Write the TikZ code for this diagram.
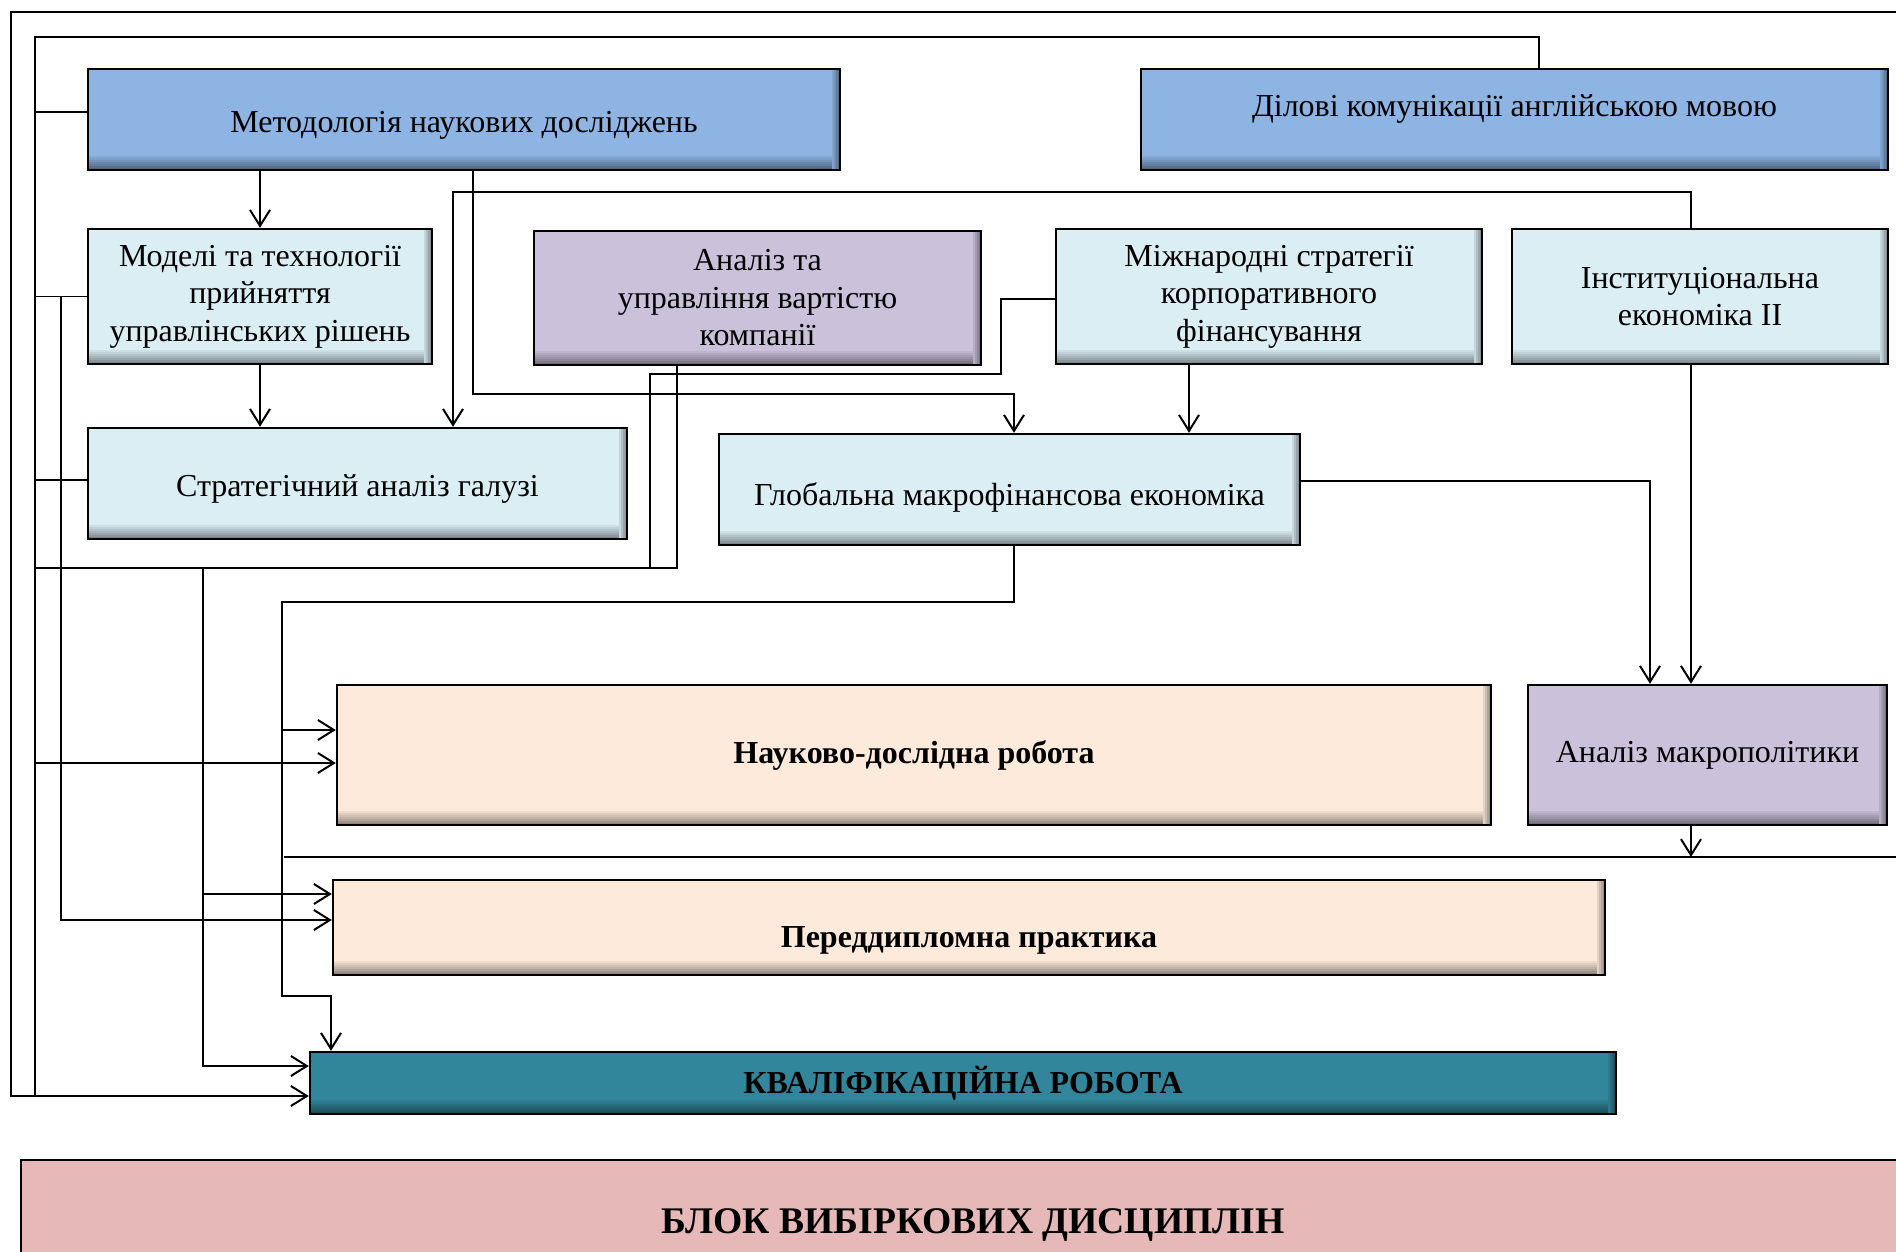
\documentclass[tikz,border=0pt]{standalone}
\usepackage{fontspec}
\setmainfont{Liberation Serif}
\usetikzlibrary{arrows.meta}
\definecolor{blu}{HTML}{8EB4E3}
\definecolor{aqua}{HTML}{DBEEF4}
\definecolor{lila}{HTML}{CCC1DA}
\definecolor{peach}{HTML}{FDEADA}
\definecolor{teal}{HTML}{31869B}
\definecolor{pink}{HTML}{E6B9B8}
\newcommand\txtshift[2]{\raisebox{#1}[0pt][0pt]{#2}}
\begin{document}
\begin{tikzpicture}[x=0.5pt,y=-0.5pt,
  bx/.style={draw=black,line width=1.2pt,fill=#1,align=center,inner sep=1pt,
    font=\fontsize{16}{18.75}\selectfont,
    path picture={
      \foreach \h/\p in {7/94,6/88,5/82,4/76,3/70,2/63,1/56}
        \fill[#1!\p!black] ([yshift=\h pt]path picture bounding box.south west) rectangle (path picture bounding box.south east);
      \foreach \w/\p in {4/90,3/80,2/70,1/60}
        \fill[#1!\p!black] ([xshift=-\w pt]path picture bounding box.north east) rectangle (path picture bounding box.south east);}},
  ln/.style={line width=0.8pt},
  ar/.style={line width=1pt,-{Straight Barb[length=8pt,width=10pt,line width=1pt]}}]
\clip (0,0) rectangle (1896,1252);
\fill[white] (0,0) rectangle (1896,1252);

\node[bx=blu,minimum width=376pt,minimum height=50.5pt] (metod) at (464,119.5) {\txtshift{-6.4pt}{Методологія наукових досліджень}};
\node[bx=blu,minimum width=373.5pt,minimum height=50.5pt] (dilovi) at (1514.5,119.5) {\txtshift{1.6pt}{Ділові комунікації англійською мовою}};
\node[bx=aqua,minimum width=172pt,minimum height=67.5pt] (modeli) at (260,296.5) {Моделі та технології\\прийняття\\управлінських рішень};
\node[bx=lila,minimum width=223.5pt,minimum height=67pt] (analiz) at (757.5,298) {Аналіз та\\управління вартістю\\компанії};
\node[bx=aqua,minimum width=213pt,minimum height=67.5pt] (mizhn) at (1269,296.5) {Міжнародні стратегії\\корпоративного\\фінансування};
\node[bx=aqua,minimum width=188pt,minimum height=67.5pt] (inst) at (1700,296.5) {Інституціональна\\економіка II};
\node[bx=aqua,minimum width=269.5pt,minimum height=55.5pt] (strat) at (357.5,483.5) {\txtshift{-6.4pt}{Стратегічний аналіз галузі}};
\node[bx=aqua,minimum width=290.5pt,minimum height=55.5pt] (glob) at (1009.5,489.5) {\txtshift{-8.2pt}{Глобальна макрофінансова економіка}};
\node[bx=peach,minimum width=577pt,minimum height=70pt] (nauk) at (914,755) {\textbf{Науково-дослідна робота}};
\node[bx=lila,minimum width=179.5pt,minimum height=70pt] (macro) at (1707.5,755) {Аналіз макрополітики};
\node[bx=peach,minimum width=636pt,minimum height=47.5pt] (pered) at (969,927.5) {\txtshift{-10pt}{\textbf{Переддипломна практика}}};
\node[bx=teal,minimum width=653pt,minimum height=31pt] (kval) at (963,1083) {\textbf{КВАЛІФІКАЦІЙНА РОБОТА}};
\node[bx=pink,minimum width=952pt,minimum height=65pt,font=\fontsize{18.8}{22}\selectfont] (blok) at (973,1225) {\textbf{БЛОК ВИБІРКОВИХ ДИСЦИПЛІН}};

\coordinate (rtop) at (1896,12);
\coordinate (rmid) at (1896,857);

\draw[ar] (dilovi.north -| 1539,0) -- (1539,37) -- (35,37) -- (35,1096) -- (kval.west |- 0,1096);
\draw[ln] (rtop) -- (11,12) -- (11,1096) -- (35,1096);
\draw[ln] (metod.west |- 0,112) -- (35,112);
\draw[ln] (modeli.west) -- (modeli.west -| 35,0);
\draw[ar] (modeli.west -| 61,0) -- (61,920) -- (pered.west |- 0,920);
\draw[ln] (strat.west |- 0,480) -- (35,480);
\draw[ln] (analiz.south -| 677,0) -- (677,568) -- (35,568);
\draw[ln] (mizhn.west |- 0,299) -- (1001,299) -- (1001,374) -- (650,374) -- (650,568);
\draw[ar] (203,568) -- (203,1066) -- (kval.west |- 0,1066);
\draw[ar] (203,894) -- (pered.west |- 0,894);
\draw[ar] (35,763) -- (nauk.west |- 0,763);

\draw[ar] (modeli.north |- metod.south) -- (modeli.north);
\draw[ar] (modeli.south) -- (modeli.south |- strat.north);
\draw[ar] (metod.south -| 473,0) -- (473,394) -- (1014,394) -- (glob.north -| 1014,0);
\draw[ar] (inst.north -| 1691,0) -- (1691,192) -- (453,192) -- (strat.north -| 453,0);
\draw[ar] (mizhn.south -| 1189,0) -- (glob.north -| 1189,0);
\draw[ar] (glob.east |- 0,481) -- (1650,481) -- (macro.north -| 1650,0);
\draw[ar] (inst.south -| 1691,0) -- (macro.north -| 1691,0);

\draw[ar] (glob.south -| 1014,0) -- (1014,602) -- (282,602) -- (282,996) -- (331,996) -- (kval.north -| 331,0);
\draw[ar] (282,730) -- (nauk.west |- 0,730);
\draw[ar] (macro.south -| 1691,0) -- (1691,857);
\draw[ln] (rmid) -- (284,857);
\end{tikzpicture}
\end{document}
